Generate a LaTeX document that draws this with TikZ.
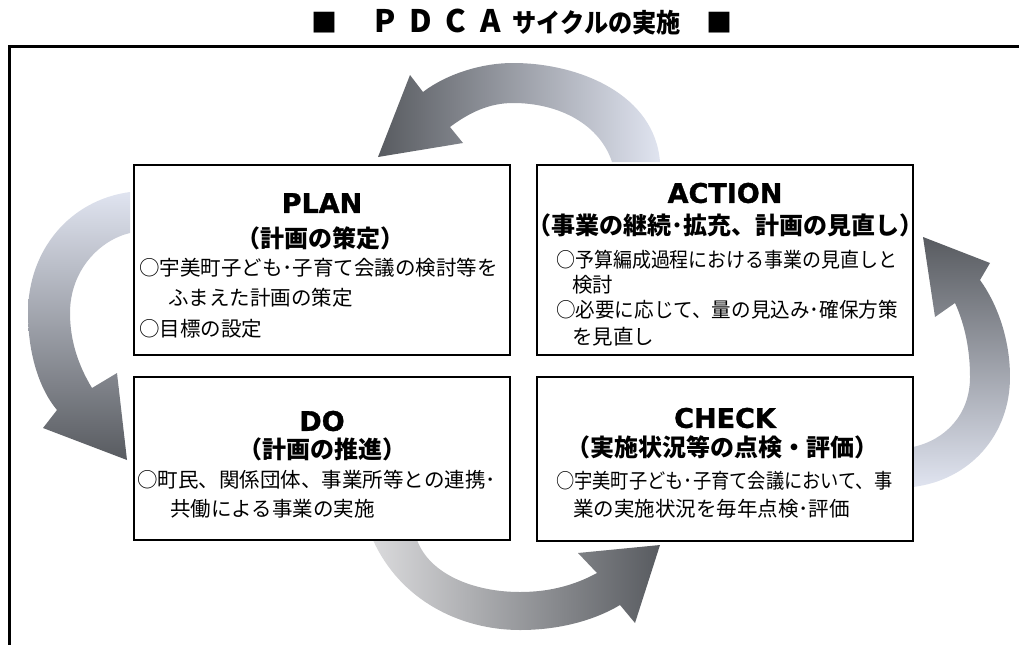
\documentclass[tikz,border=0pt]{standalone}
\usepackage{fontspec}
\newfontfamily\jp{Noto Sans CJK JP}
\newfontfamily\en{DejaVu Sans Bold}[FakeBold=1.2]
\definecolor{dk}{RGB}{88,91,96}
\definecolor{lt}{RGB}{224,228,240}
\definecolor{ltg}{RGB}{218,218,220}
\begin{document}
\begin{tikzpicture}[x=1pt,y=-1pt,
  box/.style={draw=black, line width=1.3pt, fill=white, minimum width=376pt, inner sep=0pt},
  en/.style={font=\en\fontsize{27}{30}\selectfont, inner sep=0pt, text height=19.7pt, text depth=0pt, anchor=center},
  hd/.style={font=\jp\bfseries\fontsize{24}{28}\selectfont, inner sep=0pt, text height=21.1pt, text depth=2.9pt, anchor=center},
  bd/.style={font=\jp\fontsize{20.5}{24}\selectfont, inner sep=0pt, text height=18pt, text depth=2.5pt, anchor=west},
  ttl/.style={font=\jp\bfseries\fontsize{26}{30}\selectfont, inner sep=0pt, text height=22pt, text depth=3pt}]
\useasboundingbox (0,0) rectangle (1019,645);
% title
\node[ttl, anchor=center] (sq1) at (324,23) {■};
\node[ttl, anchor=west] (title) at (374,23) {\makebox[35.5pt][l]{\fontsize{31}{30}\selectfont P}\makebox[35.5pt][l]{\fontsize{31}{30}\selectfont D}\makebox[35.5pt][l]{\fontsize{31}{30}\selectfont C}\makebox[32pt][l]{\fontsize{31}{30}\selectfont A}\scalebox{0.93}[1]{サイクルの実施}};
\node[ttl, anchor=center] (sq2) at (719,23) {■};
% frame
\draw[line width=3pt] (1019,46) -- (9,46) -- (9,645);
% arrows
\shade[left color=dk, right color=lt]
  (660,162) .. controls (655,95) and (580,63) .. (513,63)
  .. controls (480,63) and (445,75) .. (423,92) -- (410,75) -- (378,157) -- (463,143) -- (450,127)
  .. controls (470,112) and (490,103) .. (513,103)
  .. controls (560,103) and (600,125) .. (612,162) -- cycle;
\shade[top color=lt, bottom color=dk]
  (130,192) .. controls (70,200) and (28,250) .. (28,313)
  .. controls (28,355) and (40,390) .. (57,410) -- (43,428) -- (127,460) -- (117,373) -- (92,388)
  .. controls (78,365) and (70,340) .. (70,313)
  .. controls (70,270) and (100,240) .. (130,233) -- cycle;
\shade[left color=ltg, right color=dk]
  (373,540) .. controls (400,600) and (460,630) .. (520,630)
  .. controls (560,630) and (595,620) .. (620,605) -- (635,623) -- (660,545) -- (578,553) -- (597,573)
  .. controls (575,585) and (550,592) .. (520,592)
  .. controls (475,592) and (430,575) .. (417,540) -- cycle;
\shade[top color=dk, bottom color=lt]
  (913,487) .. controls (970,480) and (1010,435) .. (1010,377)
  .. controls (1010,340) and (998,305) .. (980,280) -- (990,263) -- (923,237) -- (935,317) -- (955,303)
  .. controls (965,325) and (970,350) .. (970,377)
  .. controls (970,415) and (945,440) .. (913,447) -- cycle;
% boxes
\node[box, minimum height=190pt] (plan) at (322,260) {};
\node[box, minimum height=190pt] (action) at (725,260) {};
\node[box, minimum height=163pt] (do) at (322,458.5) {};
\node[box, minimum height=164pt] (check) at (725,459) {};
% PLAN
\node[en] (planT) at (322,203) {PLAN};
\node[hd] (planH) at (320,238) {（計画の策定）};
\node[bd] (planB1) at (139,268) {○宇美町子ども･子育て会議の検討等を};
\node[bd] (planB2) at (168,298) {ふまえた計画の策定};
\node[bd] (planB3) at (139,329) {○目標の設定};
% ACTION
\node[en] (actT) at (725,193) {ACTION};
\node[hd] (actH) at (725,225) {（事業の継続･拡充、計画の見直し）};
\node[bd] (actB1) at (556,260) {\scalebox{0.925}[1]{○予算編成過程における事業の見直しと}};
\node[bd] (actB2) at (572,285) {検討};
\node[bd] (actB3) at (556,310) {\scalebox{0.955}[1]{○必要に応じて、量の見込み･確保方策}};
\node[bd] (actB4) at (572,337) {を見直し};
% DO
\node[en] (doT) at (322,421) {DO};
\node[hd] (doH) at (322,449) {（計画の推進）};
\node[bd] (doB1) at (137,480) {○町民、関係団体、事業所等との連携･};
\node[bd] (doB2) at (170,509) {共働による事業の実施};
% CHECK
\node[en] (chkT) at (725,418) {CHECK};
\node[hd] (chkH) at (722,447) {（実施状況等の点検・評価）};
\node[bd] (chkB1) at (556,481) {\scalebox{0.89}[1]{○宇美町子ども･子育て会議において、事}};
\node[bd] (chkB2) at (573,509) {業の実施状況を毎年点検･評価};
\end{tikzpicture}
\end{document}
